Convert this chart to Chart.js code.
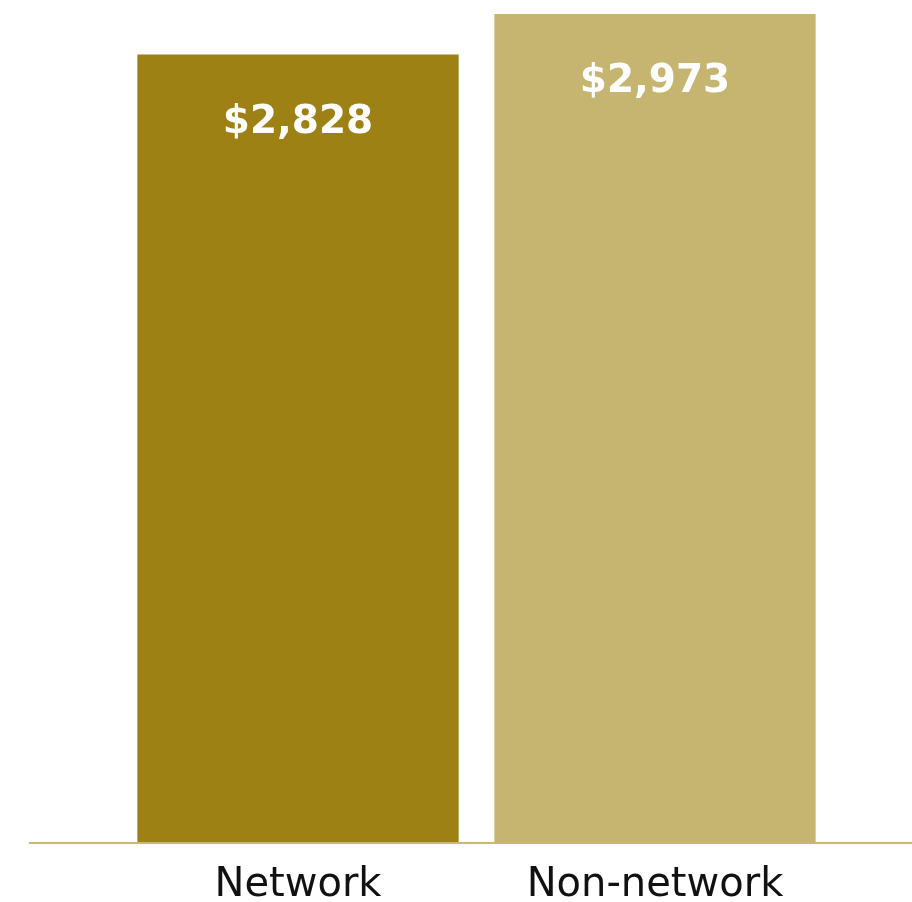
<!DOCTYPE html>
<html>
<head>
<meta charset="utf-8">
<script src="https://cdn.jsdelivr.net/npm/chart.js@4"></script>
<style>
  html, body { margin: 0; padding: 0; background: #ffffff; }
  #wrap { width: 912px; height: 902px; position: relative; }
</style>
</head>
<body>
<div id="wrap"><canvas id="cost_chart"></canvas></div>
<script>
const categories = ["Network", "Non-network"];
const cost_values = [2828, 2973];
const bar_colors = ["rgb(158, 129, 20)", "rgb(198, 181, 113)"];

// dollar labels inside the top of each bar
const value_labels_plugin = {
    id: "value_labels",
    afterDatasetsDraw(chart) {
        const ctx = chart.ctx;
        const meta = chart.getDatasetMeta(0);
        ctx.save();
        ctx.fillStyle = "#ffffff";
        ctx.font = "bold 39px 'DejaVu Sans'";
        ctx.textAlign = "center";
        ctx.textBaseline = "middle";
        meta.data.forEach((bar, i) => {
            ctx.fillText("$" + cost_values[i].toLocaleString("en-US"), bar.x, bar.y + 68);
        });
        ctx.restore();
    }
};

// thin baseline running across nearly the whole width
const baseline_plugin = {
    id: "baseline",
    afterDatasetsDraw(chart) {
        const ctx = chart.ctx;
        const y = chart.scales.y.getPixelForValue(0) + 1;
        ctx.save();
        ctx.strokeStyle = "rgb(200, 184, 116)";
        ctx.lineWidth = 2;
        ctx.beginPath();
        ctx.moveTo(29, y);
        ctx.lineTo(912, y);
        ctx.stroke();
        ctx.restore();
    }
};

const cost_chart = new Chart("cost_chart",
{
    type: "bar",
    data:
    {
        labels: categories,
        datasets:
        [
            {
                data: cost_values,
                backgroundColor: bar_colors,
                barPercentage: 0.9,
                categoryPercentage: 1.0
            }
        ]
    },
    options:
    {
        animation: false,
        responsive: true,
        maintainAspectRatio: false,
        layout:
        {
            padding: { left: 119.5, right: 78.5, top: 14, bottom: 0 }
        },
        plugins:
        {
            legend: { display: false },
            tooltip: { enabled: false }
        },
        scales:
        {
            x:
            {
                grid: { display: false, drawTicks: false },
                border: { display: false },
                afterFit(scale) { scale.height = 60; },
                ticks:
                {
                    color: "#111111",
                    padding: 20,
                    font: { family: "'DejaVu Sans'", size: 40, lineHeight: 1.2 }
                }
            },
            y:
            {
                display: false,
                min: 0,
                max: 2973
            }
        }
    },
    plugins: [value_labels_plugin, baseline_plugin]
});
</script>
</body>
</html>
